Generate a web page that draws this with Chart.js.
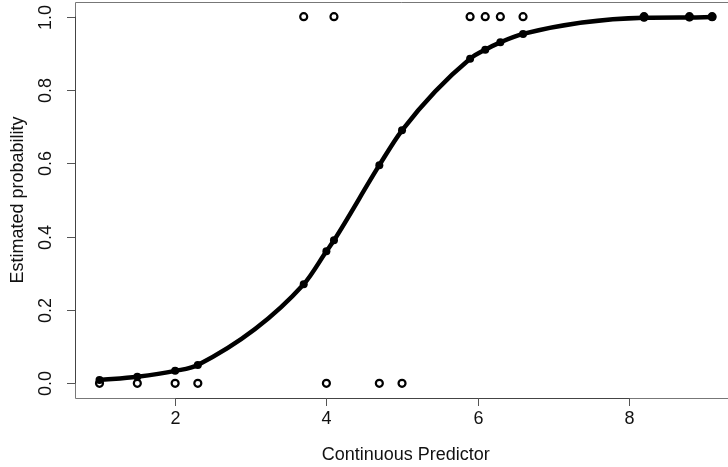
<!DOCTYPE html>
<html>
<head>
<meta charset="utf-8">
<title>Estimated probability</title>
<script src="https://cdn.jsdelivr.net/npm/chart.js@4.4.1/dist/chart.umd.min.js"></script>
<style>
  html, body { margin: 0; padding: 0; background: #fff; overflow: hidden; }
  canvas { display: block; }
</style>
</head>
<body>
<canvas id="myChart" width="728" height="467"></canvas>
<script>
// ===== data =====
const predictor = [1, 1.5, 2, 2.3, 3.7, 4, 4.1, 4.7, 5, 5.9, 6.1, 6.3, 6.6, 8.2, 8.8, 9.1];
const observed = [0, 0, 0, 0, 1, 0, 1, 0, 0, 1, 1, 1, 1, 1, 1, 1];
const fitted = [0.009, 0.018, 0.034, 0.05, 0.27, 0.36, 0.39, 0.595, 0.69, 0.885, 0.91, 0.93, 0.953, 0.997, 0.998, 0.999];

const xTicks = [2, 4, 6, 8];
const xTickLabels = ["2", "4", "6", "8"];
const yTicks = [0, 0.2, 0.4, 0.6, 0.8, 1.0];
const yTickLabels = ["0.0", "0.2", "0.4", "0.6", "0.8", "1.0"];
const xTitle = "Continuous Predictor";
const yTitle = "Estimated probability";

const FONT = "18px 'Liberation Sans', Arial, sans-serif";

// points as {x, y}
const observedPts = predictor.map((v, i) => ({ x: v, y: observed[i] }));
const fittedPts = predictor.map((v, i) => ({ x: v, y: fitted[i] }));

// R-style box, ticks and labels
const rAxes = {
  id: "rAxes",
  afterDraw(chart) {
    const { ctx, chartArea: a } = chart;
    const x = chart.scales.x;
    const y = chart.scales.y;
    ctx.save();

    // box (right side is off the canvas)
    ctx.strokeStyle = "#777";
    ctx.lineWidth = 1;
    ctx.beginPath();
    ctx.moveTo(chart.width, a.top + 0.5);
    ctx.lineTo(a.left + 0.5, a.top + 0.5);
    ctx.lineTo(a.left + 0.5, a.bottom + 0.5);
    ctx.lineTo(chart.width, a.bottom + 0.5);
    ctx.stroke();

    // axis lines between first and last tick
    ctx.strokeStyle = "#444";
    ctx.beginPath();
    ctx.moveTo(x.getPixelForValue(xTicks[0]), a.bottom + 0.5);
    ctx.lineTo(x.getPixelForValue(xTicks[xTicks.length - 1]), a.bottom + 0.5);
    ctx.moveTo(a.left + 0.5, y.getPixelForValue(yTicks[0]));
    ctx.lineTo(a.left + 0.5, y.getPixelForValue(yTicks[yTicks.length - 1]));
    ctx.stroke();

    ctx.strokeStyle = "#555";
    ctx.font = FONT;
    ctx.fillStyle = "#111";

    // x ticks
    ctx.textAlign = "center";
    ctx.textBaseline = "middle";
    xTicks.forEach((t, i) => {
      const px = Math.round(x.getPixelForValue(t)) + 0.5;
      ctx.beginPath();
      ctx.moveTo(px, a.bottom);
      ctx.lineTo(px, a.bottom + 8);
      ctx.stroke();
      ctx.fillText(xTickLabels[i], px, a.bottom + 21);
    });

    // y ticks, labels parallel to the axis
    yTicks.forEach((t, i) => {
      const py = Math.round(y.getPixelForValue(t)) + 0.5;
      ctx.beginPath();
      ctx.moveTo(a.left, py);
      ctx.lineTo(a.left - 8, py);
      ctx.stroke();
      ctx.save();
      ctx.translate(a.left - 29, py);
      ctx.rotate(-Math.PI / 2);
      ctx.fillText(yTickLabels[i], 0, 0);
      ctx.restore();
    });

    // titles
    ctx.fillText(xTitle, x.getPixelForValue(5.05), a.bottom + 57);
    ctx.save();
    ctx.translate(a.left - 57, (a.top + a.bottom) / 2);
    ctx.rotate(-Math.PI / 2);
    ctx.fillText(yTitle, 0, 0);
    ctx.restore();

    ctx.restore();
  },
};

const canvas = document.getElementById("myChart");
const myChart = new Chart(canvas.getContext("2d"), {
  type: "scatter",
  data: {
    datasets: [
      {
        label: "Observed",
        data: observedPts,
        pointRadius: 3.5,
        pointBorderWidth: 2.2,
        pointBorderColor: "#000",
        pointBackgroundColor: "#fff",
        showLine: false,
        order: 2,
      },
      {
        label: "Fitted",
        data: fittedPts,
        showLine: true,
        borderColor: "#000",
        borderWidth: 4.5,
        cubicInterpolationMode: "monotone",
        pointRadius: 4,
        pointBorderWidth: 0,
        pointBackgroundColor: "#000",
        order: 1,
      },
    ],
  },
  options: {
    responsive: false,
    animation: false,
    events: [],
    layout: {
      autoPadding: false,
      padding: { left: 75, top: 2, right: 0, bottom: 69 },
    },
    plugins: {
      legend: { display: false },
      tooltip: { enabled: false },
    },
    scales: {
      x: { type: "linear", min: 0.676, max: 9.31, display: false },
      y: { type: "linear", min: -0.04, max: 1.04, display: false },
    },
  },
  plugins: [rAxes],
});
</script>
</body>
</html>
